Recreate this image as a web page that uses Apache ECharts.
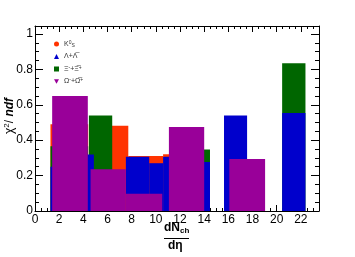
<!DOCTYPE html>
<html>
<head>
<meta charset="utf-8">
<script src="https://cdn.jsdelivr.net/npm/echarts@6/dist/echarts.min.js"></script>
<style>html,body{margin:0;padding:0;background:#fff}#c{width:355px;height:257px}</style>
</head>
<body>
<div id="c"></div>
<script>
// Bins: lower edge, upper edge, chi2/ndf value
const k0sLo  = [1.28, 4.50, 7.72, 10.60];
const k0sHi  = [4.40, 7.72, 10.60, 13.60];
const k0sVal = [0.49, 0.481, 0.31, 0.32];

const xiLo  = [1.28, 4.46, 11.50, 20.45];
const xiHi  = [4.40, 6.39, 14.48, 22.38];
const xiVal = [0.366, 0.54, 0.347, 0.834];

const lamLo  = [1.28, 1.90, 7.52, 9.45, 10.60, 11.50, 15.64, 20.45];
const lamHi  = [4.40, 4.87, 9.45, 10.60, 13.00, 14.48, 17.55, 22.38];
const lamVal = [0.25, 0.319, 0.306, 0.27, 0.306, 0.277, 0.54, 0.553];

const omLo  = [1.42, 4.60, 7.52, 11.08, 16.08];
const omHi  = [4.37, 7.52, 10.53, 14.00, 19.04];
const omVal = [0.649, 0.236, 0.098, 0.475, 0.294];

const xTicks = [0, 2, 4, 6, 8, 10, 12, 14, 16, 18, 20, 22];
const yTicks = [0, 0.2, 0.4, 0.6, 0.8, 1];

const names = ['K0s', 'Lambda', 'Xi', 'Omega'];
const colors = {K0s: '#ff3300', Lambda: '#0000cc', Xi: '#006600', Omega: '#990099'};

function rows(lo, hi, val) { return lo.map((l, i) => [l, hi[i], val[i]]); }

function mk(name, lo, hi, val) {
  const col = colors[name];
  return {
    name: name, type: 'custom', xAxisIndex: 0, yAxisIndex: 0,
    data: rows(lo, hi, val),
    encode: {x: [0, 1], y: 2},
    itemStyle: {color: col},
    renderItem: function (params, api) {
      const p0 = api.coord([api.value(0), api.value(2)]);
      const p1 = api.coord([api.value(1), 0]);
      return {type: 'rect',
        shape: {x: p0[0], y: p0[1], width: p1[0] - p0[0], height: p1[1] - p0[1]},
        style: {fill: col}};
    }
  };
}

const chart = echarts.init(document.getElementById('c'));
const font = 'Liberation Sans, Arial, sans-serif';
const legendText = {
  K0s: '{m|K}{p|0}{b|S}',
  Lambda: '{m|Λ+Λ\u0305}',
  Xi: '{m|Ξ}{p|-}{m|+Ξ\u0305}{p|+}',
  Omega: '{m|Ω}{p|-}{m|+Ω\u0305}{p|+}'
};
const icons = {
  K0s: 'circle', Lambda: 'triangle', Xi: 'rect', Omega: 'path://M0,0 L10,0 L5,9 Z'
};
chart.setOption({
  animation: false,
  backgroundColor: '#fff',
  grid: {left: 35, right: 36, top: 26, bottom: 46, containLabel: false, outerBoundsMode: 'none'},
  legend: {
    orient: 'vertical', left: 49, top: 35, itemWidth: 5, itemHeight: 5, itemGap: 4.5, itemTextGap: 4,
    data: names.map(n => ({name: n, icon: icons[n]})),
    formatter: n => legendText[n],
    textStyle: {color: '#333', fontFamily: font, fontSize: 7, lineHeight: 8,
      rich: {
        m: {fontSize: 7, fontFamily: font, color: '#333', verticalAlign: 'middle'},
        p: {fontSize: 5, fontFamily: font, color: '#333', verticalAlign: 'top'},
        b: {fontSize: 5, fontFamily: font, color: '#333', verticalAlign: 'bottom'}
      }}
  },
  xAxis: [{
    type: 'value', min: 0, max: 23.5, interval: 2, position: 'bottom',
    axisLine: {show: true, onZero: false, lineStyle: {color: '#000', width: 1}},
    axisTick: {inside: true, length: 6, lineStyle: {color: '#000'}},
    minorTick: {show: true, splitNumber: 4, length: 3, lineStyle: {color: '#000'}},
    splitLine: {show: false},
    axisLabel: {color: '#000', fontFamily: font, fontSize: 12, margin: 3, showMaxLabel: false,
      formatter: v => xTicks.includes(v) ? String(v) : ''}
  }, {
    type: 'value', min: 0, max: 23.5, interval: 2, position: 'top',
    axisLine: {show: true, onZero: false, lineStyle: {color: '#000', width: 1}},
    axisTick: {inside: true, length: 6, lineStyle: {color: '#000'}},
    minorTick: {show: true, splitNumber: 4, length: 3, lineStyle: {color: '#000'}},
    splitLine: {show: false}, axisLabel: {show: false}
  }],
  yAxis: [{
    type: 'value', min: 0, max: 1.045, interval: 0.2, position: 'left',
    axisLine: {show: true, onZero: false, lineStyle: {color: '#000', width: 1}},
    axisTick: {inside: true, length: 8, lineStyle: {color: '#000'}},
    minorTick: {show: true, splitNumber: 4, length: 4, lineStyle: {color: '#000'}},
    splitLine: {show: false},
    axisLabel: {color: '#000', fontFamily: font, fontSize: 12, margin: 2, showMaxLabel: false,
      formatter: v => yTicks.some(t => Math.abs(t - v) < 1e-9) ? String(+v.toFixed(1)) : ''}
  }, {
    type: 'value', min: 0, max: 1.045, interval: 0.2, position: 'right',
    axisLine: {show: true, onZero: false, lineStyle: {color: '#000', width: 1}},
    axisTick: {inside: true, length: 8, lineStyle: {color: '#000'}},
    minorTick: {show: true, splitNumber: 4, length: 4, lineStyle: {color: '#000'}},
    splitLine: {show: false}, axisLabel: {show: false}
  }],
  graphic: [
    {type: 'text', x: 10, y: 116, rotation: Math.PI / 2, style: {
      text: '{c|χ}{s|2}{c|/ }{n|ndf}', align: 'center', verticalAlign: 'middle',
      rich: {
        c: {fontSize: 12, fontFamily: font, fill: '#000', verticalAlign: 'middle', lineHeight: 14},
        s: {fontSize: 8, fontFamily: font, fill: '#000', verticalAlign: 'top'},
        n: {fontSize: 12, fontFamily: font, fill: '#000', fontWeight: 'bold', fontStyle: 'italic', verticalAlign: 'middle'}
      }}},
    {type: 'text', left: 164, top: 222, style: {
      text: '{a|dN}{s|ch}', fill: '#000',
      rich: {a: {fontSize: 12, fontWeight: 'bold', fontFamily: font, verticalAlign: 'middle', lineHeight: 14},
             s: {fontSize: 8, fontWeight: 'bold', fontFamily: font, verticalAlign: 'bottom'}}}},
    {type: 'line', shape: {x1: 164, y1: 238.5, x2: 189, y2: 238.5}, style: {stroke: '#000', lineWidth: 1}},
    {type: 'text', left: 168, top: 240, style: {text: 'dη', fill: '#000', fontSize: 12, fontWeight: 'bold', fontFamily: font}}
  ],
  series: [
    mk('K0s', k0sLo, k0sHi, k0sVal),
    mk('Xi', xiLo, xiHi, xiVal),
    mk('Lambda', lamLo, lamHi, lamVal),
    mk('Omega', omLo, omHi, omVal)
  ]
});
</script>
</body>
</html>
